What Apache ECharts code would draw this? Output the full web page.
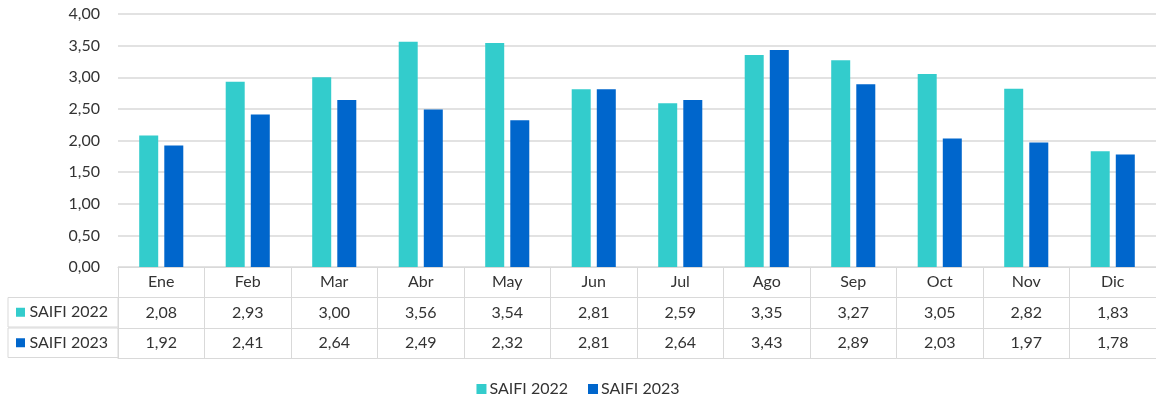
<!DOCTYPE html>
<html>
<head>
<meta charset="utf-8">
<script src="https://cdn.jsdelivr.net/npm/echarts@6/dist/echarts.min.js"></script>
<style>
  html, body { margin: 0; padding: 0; background: #fff; }
  #chart { width: 1156px; height: 405px; }
</style>
</head>
<body>
<div id="chart"></div>
<script>
// meses
const months = ['Ene', 'Feb', 'Mar', 'Abr', 'May', 'Jun', 'Jul', 'Ago', 'Sep', 'Oct', 'Nov', 'Dic']
// SAIFI por mes
const saifi2022 = [2.08, 2.93, 3.00, 3.56, 3.54, 2.81, 2.59, 3.35, 3.27, 3.05, 2.82, 1.83]
const saifi2023 = [1.92, 2.41, 2.64, 2.49, 2.32, 2.81, 2.64, 3.43, 2.89, 2.03, 1.97, 1.78]
const seriesNames = ['SAIFI 2022', 'SAIFI 2023']
const colors = ['#33cccc', '#0066cc']

const font = 'Lato, "Liberation Sans", sans-serif'
const fontSize = 16
const textColor = '#333333'
const lineColor = '#d9d9d9'
const rowH = 30.5

// coma decimal
const fmt = v => v.toFixed(2).replace('.', ',')

// fila de la tabla (eje extra debajo del grid)
function tableRow(idx, values, name, color) {
  return {
    type: 'category',
    data: months,
    position: 'bottom',
    offset: rowH * idx,
    axisLine: { show: true, lineStyle: { color: lineColor, width: 1 } },
    axisTick: { show: false },
    axisLabel: {
      show: !!values,
      interval: 0,
      margin: 7,
      color: textColor,
      fontFamily: font,
      fontSize: fontSize,
      formatter: (v, i) => values ? fmt(values[i]) : ''
    },
    name: name || '',
    nameLocation: 'start',
    nameGap: 0,
    nameTextStyle: name ? {
      align: 'right',
      verticalAlign: 'top',
      height: rowH - 1,
      lineHeight: rowH - 1,
      padding: [0, 10, 0, 8],
      borderColor: lineColor,
      borderWidth: 1,
      color: textColor,
      fontFamily: font,
      fontSize: fontSize,
      rich: {
        sq: { backgroundColor: color, width: 9, height: 9 },
        t: { color: textColor, fontFamily: font, fontSize: fontSize, width: 83, align: 'right' }
      }
    } : {}
  }
}

const chart = echarts.init(document.getElementById('chart'))
chart.setOption({
  animation: false,
  grid: { left: 118, right: 0, top: 14, bottom: 138 },
  legend: {
    data: seriesNames,
    bottom: 3,
    left: 'center',
    icon: 'rect',
    itemWidth: 10,
    itemHeight: 10,
    itemGap: 20,
    textStyle: { color: textColor, fontFamily: font, fontSize: fontSize, padding: [0, 0, 0, -2] }
  },
  yAxis: {
    type: 'value',
    min: 0,
    max: 4,
    interval: 0.5,
    axisLine: { show: false },
    axisTick: { show: false },
    axisLabel: { color: textColor, fontFamily: font, fontSize: fontSize, margin: 18, formatter: v => fmt(v) },
    splitLine: { lineStyle: { color: lineColor, width: 1.5 } }
  },
  xAxis: [
    {
      type: 'category',
      data: months,
      position: 'bottom',
      axisLine: { show: true, lineStyle: { color: lineColor, width: 1 } },
      axisTick: { show: true, interval: 0, length: rowH * 3, lineStyle: { color: lineColor, width: 1 } },
      axisLabel: { interval: 0, margin: 7, color: textColor, fontFamily: font, fontSize: fontSize }
    },
    tableRow(1, saifi2022, '{sq|}{t|' + seriesNames[0] + '}', colors[0]),
    tableRow(2, saifi2023, '{sq|}{t|' + seriesNames[1] + '}', colors[1]),
    tableRow(3, null, null)
  ],
  series: [
    {
      name: seriesNames[0],
      type: 'bar',
      data: saifi2022,
      barWidth: 19,
      barGap: '32%',
      itemStyle: { color: colors[0] }
    },
    {
      name: seriesNames[1],
      type: 'bar',
      data: saifi2023,
      barWidth: 19,
      itemStyle: { color: colors[1] }
    }
  ]
})
</script>
</body>
</html>
